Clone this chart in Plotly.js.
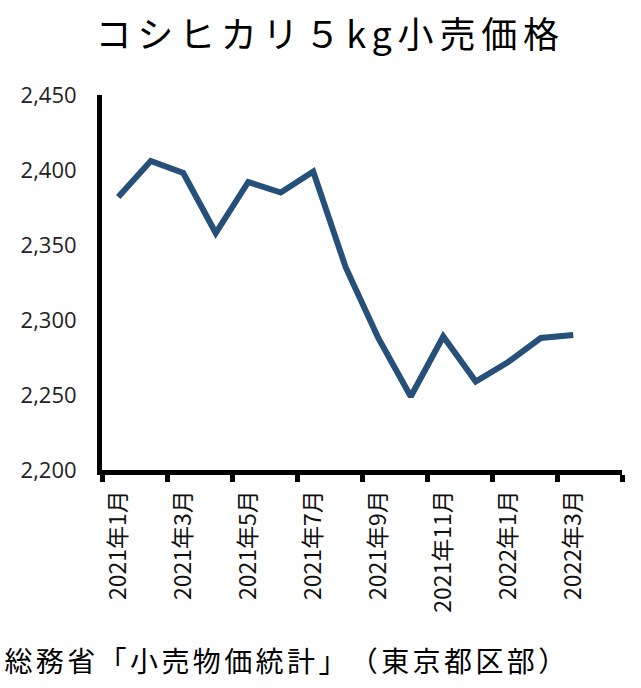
<!DOCTYPE html>
<html>
<head>
<meta charset="utf-8">
<script src="https://cdn.plot.ly/plotly-3.0.1.min.js"></script>
<style>
html,body{margin:0;padding:0;background:#fff;}
#chart{width:641px;height:688px;}
#chart text{text-spacing-trim: space-all;}
#chart .gtitle{letter-spacing:5.8px;}
#chart .annotation-text{letter-spacing:3.4px;}
</style>
</head>
<body>
<div id="chart"></div>
<script>
const months = ["2021年1月","2021年2月","2021年3月","2021年4月","2021年5月","2021年6月","2021年7月","2021年8月","2021年9月","2021年10月","2021年11月","2021年12月","2022年1月","2022年2月","2022年3月","2022年4月"];
const dataMonths = months.slice(0, 15);
const prices = [2382, 2406, 2398, 2358, 2392, 2385, 2399, 2335, 2288, 2249, 2289, 2259, 2272, 2288, 2290];
const yTicks = [2200, 2250, 2300, 2350, 2400, 2450];
const titleText = "コシヒカリ５kg小売価格";
const sourceText = "総務省「小売物価統計」（東京都区部）";

const trace = {
  x: dataMonths,
  y: prices,
  type: "scatter",
  mode: "lines",
  line: {color: "#26507a", width: 6},
  hoverinfo: "skip"
};

const layout = {
  width: 641,
  height: 688,
  margin: {l: 102, r: 19, t: 95, b: 218},
  paper_bgcolor: "#fff",
  plot_bgcolor: "#fff",
  showlegend: false,
  title: {
    text: titleText,
    font: {family: "Noto Sans CJK JP", size: 36, color: "#000"},
    x: 0.515, xanchor: "center",
    yref: "container", y: 0.949, yanchor: "middle"
  },
  xaxis: {
    type: "category",
    categoryorder: "array",
    categoryarray: months,
    range: [-0.5, 15.5],
    tickmode: "linear",
    tick0: 0,
    dtick: 2,
    tickson: "boundaries",
    ticks: "outside",
    ticklen: 7,
    tickwidth: 5,
    tickcolor: "#000",
    tickangle: -90,
    ticklabelstandoff: 6,
    tickfont: {family: "Noto Sans CJK JP", size: 23, color: "#111"},
    showline: true,
    linecolor: "#000",
    linewidth: 5,
    showgrid: false,
    zeroline: false,
    fixedrange: true
  },
  yaxis: {
    range: [2200, 2450],
    tickvals: yTicks,
    tickformat: ",",
    ticks: "",
    ticklabelstandoff: 16,
    tickfont: {family: "Open Sans", size: 22, color: "#222"},
    showline: true,
    linecolor: "#000",
    linewidth: 5,
    showgrid: false,
    zeroline: false,
    fixedrange: true
  },
  annotations: [{
    text: sourceText,
    xref: "paper", yref: "paper",
    x: 0.356, xanchor: "center",
    y: -0.507, yanchor: "middle",
    showarrow: false,
    font: {family: "Noto Sans CJK JP", size: 28, color: "#000"}
  }]
};

Plotly.newPlot("chart", [trace], layout, {displayModeBar: false, staticPlot: true});
</script>
</body>
</html>
